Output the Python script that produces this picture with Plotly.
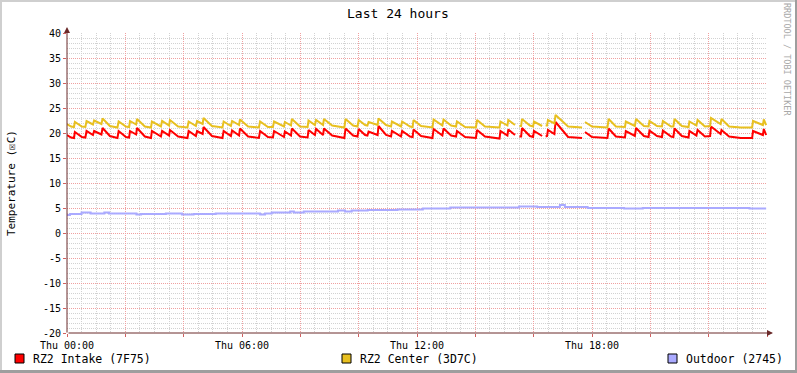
import plotly.graph_objects as go

# ---------------- data ----------------
title = "Last 24 hours"
y_title = "Temperature (\u2612C)"
x_tick_hours = [0, 2, 4, 6, 8, 10, 12, 14, 16, 18, 20, 22, 24]
x_tick_text = ["Thu 00:00", "", "", "Thu 06:00", "", "", "Thu 12:00", "", "", "Thu 18:00", "", "", ""]
y_tick_vals = [-20, -15, -10, -5, 0, 5, 10, 15, 20, 25, 30, 35, 40]
y_tick_text = ["-20", "-15", "-10", "-5", "0", "5", "10", "15", "20", "25", "30", "35", "40"]

series_names = ["RZ2 Intake (7F75)", "RZ2 Center (3D7C)", "Outdoor (2745)"]

# hours since Thu 00:00 (shared by the two RZ2 sensors)
t_rz = [0.00, 0.14, 0.24, 0.27, 0.51, 0.63, 0.67, 0.89, 0.93, 1.18, 1.22, 1.47, 1.73, 1.77,
        2.02, 2.13, 2.16, 2.37, 2.40, 2.67, 2.88, 2.91, 3.22, 3.26, 3.50, 3.53, 3.81, 4.13,
        4.17, 4.42, 4.46, 4.65, 4.68, 4.97, 5.33, 5.37, 5.62, 5.66, 5.90, 5.93, 6.21, 6.58,
        6.62, 6.89, 7.06, 7.10, 7.44, 7.47, 7.68, 7.71, 7.99, 8.25, 8.28, 8.50, 8.54, 8.78,
        8.81, 9.09, 9.51, 9.55, 9.81, 9.96, 10.00, 10.22, 10.30, 10.34, 10.65, 10.68, 10.94,
        11.11, 11.14, 11.45, 11.49, 11.76, 11.85, 11.88, 12.14, 12.53, 12.57, 12.87, 12.91,
        13.17, 13.34, 13.37, 13.65, 14.02, 14.06, 14.33, 14.83, 14.86, 15.10, 15.13, 15.36,
        15.43, 15.51, 15.57, 15.60, 15.87, 15.98, 16.01, 16.29, 16.35, 16.41, 16.46, 16.49,
        16.71, 16.75, 17.18, 17.66, 17.71, 17.76, 18.00, 18.53, 18.57, 18.82, 19.13, 19.16,
        19.47, 19.51, 19.78, 19.94, 19.97, 20.23, 20.40, 20.43, 20.71, 20.79, 20.83, 21.08,
        21.31, 21.34, 21.58, 21.62, 21.87, 22.05, 22.08, 22.41, 22.44, 22.70, 23.10, 23.49,
        23.52, 23.86, 23.89, 23.97]

rz2_intake = [19.6, 19.1, 19.0, 20.2, 19.2, 19.1, 20.4, 19.6, 20.4, 19.7, 21.0, 19.4, 19.0, 20.4,
              19.2, 19.1, 20.4, 19.7, 21.0, 19.3, 19.0, 20.4, 19.3, 20.4, 19.5, 20.6, 19.3, 19.0,
              20.4, 19.4, 20.4, 19.8, 21.2, 19.4, 19.0, 20.4, 19.4, 20.5, 19.5, 20.9, 19.3, 19.0,
              20.4, 19.2, 19.1, 20.4, 19.2, 20.3, 19.5, 20.9, 19.3, 19.1, 20.6, 19.6, 20.8, 19.6,
              20.9, 19.5, 19.0, 20.9, 19.5, 19.3, 20.8, 19.6, 19.5, 20.3, 19.6, 21.4, 19.6,
              19.3, 20.4, 19.3, 20.4, 19.3, 19.2, 20.7, 19.4, 19.0, 20.8, 19.5, 20.9,
              19.5, 19.3, 20.4, 19.2, 19.0, 20.6, 19.3, 18.9, 20.4, 19.5, 20.7, 19.6,
              None, 19.3, 19.3, 21.0, 19.4, 19.2, 20.4, 19.4, None, 19.3, 19.4, 20.6,
              19.8, 22.2, 19.2, 19.0, None, 20.2, 19.2, 19.0, 20.9, 19.3, 19.1, 20.4,
              19.4, 21.0, 19.4, 19.2, 20.5, 19.4, 19.2, 20.5, 19.3, 19.2, 20.9, 19.4,
              19.1, 20.4, 19.5, 20.6, 19.3, 19.4, 21.3, 19.8, 20.6, 19.3, 19.0, 19.0,
              20.4, 19.6, 20.8, 19.6]

rz2_center = [21.8, 21.3, 21.2, 22.2, 21.3, 21.2, 22.4, 21.7, 22.5, 21.8, 22.9, 21.4, 21.1, 22.3,
              21.3, 21.2, 22.4, 21.7, 22.8, 21.3, 21.1, 22.3, 21.3, 22.4, 21.5, 22.6, 21.3, 21.1,
              22.3, 21.4, 22.4, 21.8, 23.0, 21.4, 21.1, 22.3, 21.4, 22.4, 21.6, 22.7, 21.3, 21.1,
              22.3, 21.2, 21.2, 22.3, 21.3, 22.2, 21.5, 22.8, 21.3, 21.2, 22.5, 21.6, 22.6, 21.6,
              22.8, 21.5, 21.1, 22.8, 21.5, 21.3, 22.6, 21.6, 21.5, 22.2, 21.6, 22.9, 21.6,
              21.3, 22.3, 21.3, 22.3, 21.3, 21.2, 22.6, 21.4, 21.1, 22.7, 21.5, 22.7,
              21.5, 21.3, 22.3, 21.2, 21.1, 22.6, 21.3, 21.1, 22.3, 21.5, 22.6, 21.6,
              None, 21.4, 21.4, 22.8, 21.5, 21.3, 22.3, 21.4, None, 21.5, 21.5, 22.6,
              21.9, 23.6, 21.3, 21.1, None, 22.2, 21.3, 21.1, 22.8, 21.3, 21.2, 22.3,
              21.4, 22.8, 21.4, 21.3, 22.4, 21.4, 21.3, 22.4, 21.3, 21.3, 22.8, 21.4,
              21.2, 22.3, 21.5, 22.6, 21.3, 21.4, 23.0, 21.8, 22.8, 21.3, 21.1, 21.1,
              22.4, 21.6, 22.7, 21.6]

t_outdoor = [0.00, 0.10, 0.50, 0.81, 1.28, 1.44, 2.38, 2.54, 3.39, 3.94, 4.34, 5.10, 6.62, 6.79,
             7.02, 7.65, 7.78, 8.12, 9.29, 9.53, 9.76, 10.31, 11.33, 12.20, 13.14, 15.50, 16.12,
             16.90, 17.07, 17.85, 19.10, 19.74, 23.40, 23.97]
outdoor = [3.6, 3.8, 4.1, 3.9, 4.1, 3.9, 3.7, 3.8, 3.9, 3.7, 3.8, 3.9, 3.7, 3.9,
           4.1, 4.3, 4.1, 4.3, 4.5, 4.3, 4.5, 4.6, 4.7, 4.9, 5.1, 5.3, 5.2,
           5.6, 5.2, 5.0, 4.9, 5.0, 4.9, 4.9]

colors = ["#FF0000", "#E8C020", "#AAAAFF"]

# ---------------- geometry (pixels) ----------------
W, H = 797, 373
L, R, T, B = 67, 30, 33, 40
PW, PH = W - L - R, H - T - B
FONT = "DejaVu Sans Mono"


def px(x):
    return (x - L) / PW


def py(y):
    return (H - B - y) / PH


fig = go.Figure()
fig.add_trace(go.Scatter(x=t_rz, y=rz2_intake, mode="lines", name=series_names[0],
                         line=dict(color=colors[0], width=2), connectgaps=False))
fig.add_trace(go.Scatter(x=t_rz, y=rz2_center, mode="lines", name=series_names[1],
                         line=dict(color=colors[1], width=2), connectgaps=False))
fig.add_trace(go.Scatter(x=t_outdoor, y=outdoor, mode="lines", name=series_names[2],
                         line=dict(color=colors[2], width=2, shape="hv")))

major_grid = "#F0A0A0"
minor_grid = "#D2D2D2"

fig.update_xaxes(range=[0, 24], tickmode="array", tickvals=x_tick_hours, ticktext=x_tick_text,
                 showgrid=True, gridcolor=major_grid, griddash="1px,1px", gridwidth=1,
                 ticks="outside", ticklen=3, tickcolor="#D06060",
                 tickfont=dict(family=FONT, size=10, color="black"),
                 minor=dict(tickmode="linear", tick0=0, dtick=0.5, showgrid=True,
                            gridcolor=minor_grid, griddash="1px,1px"),
                 zeroline=False, showline=False, fixedrange=True)
fig.update_yaxes(range=[-20, 40], tickmode="array", tickvals=y_tick_vals, ticktext=y_tick_text,
                 showgrid=True, gridcolor=major_grid, griddash="1px,1px", gridwidth=1,
                 ticks="outside", ticklen=3, tickcolor="#D06060",
                 tickfont=dict(family=FONT, size=10, color="black"),
                 minor=dict(tickmode="linear", tick0=-20, dtick=1, showgrid=True,
                            gridcolor=minor_grid, griddash="1px,1px"),
                 zeroline=False, showline=False, fixedrange=True)

shapes = []
# frame shading
shapes.append(dict(type="rect", xref="paper", yref="paper", x0=px(0), x1=px(W), y0=py(0), y1=py(2),
                   fillcolor="#CFCFCF", line_width=0, layer="above"))
shapes.append(dict(type="rect", xref="paper", yref="paper", x0=px(0), x1=px(2), y0=py(0), y1=py(H),
                   fillcolor="#CFCFCF", line_width=0, layer="above"))
shapes.append(dict(type="rect", xref="paper", yref="paper", x0=px(W - 2), x1=px(W), y0=py(0), y1=py(H),
                   fillcolor="#9E9E9E", line_width=0, layer="above"))
shapes.append(dict(type="rect", xref="paper", yref="paper", x0=px(0), x1=px(W), y0=py(H - 3), y1=py(H),
                   fillcolor="#9E9E9E", line_width=0, layer="above"))

annotations = []
# axes with arrows
annotations.append(dict(x=px(773), y=0, xref="paper", yref="paper", ax=-706, ay=0,
                        axref="pixel", ayref="pixel", text="", showarrow=True, arrowhead=2,
                        arrowsize=1.2, arrowwidth=1, arrowcolor="#6B2A2A", standoff=0))
annotations.append(dict(x=0, y=py(27), xref="paper", yref="paper", ax=0, ay=307,
                        axref="pixel", ayref="pixel", text="", showarrow=True, arrowhead=2,
                        arrowsize=1.2, arrowwidth=1, arrowcolor="#6B2A2A", standoff=0))
# title
annotations.append(dict(x=px(398), y=py(13.5), xref="paper", yref="paper", text=title,
                        showarrow=False, xanchor="center", yanchor="middle",
                        font=dict(family=FONT, size=13, color="black")))
# y axis title
annotations.append(dict(x=px(11), y=py(183), xref="paper", yref="paper", text=y_title,
                        showarrow=False, textangle=-90, xanchor="center", yanchor="middle",
                        font=dict(family=FONT, size=11, color="black")))
# watermark
annotations.append(dict(x=px(787), y=py(60), xref="paper", yref="paper",
                        text="RRDTOOL / TOBI OETIKER", showarrow=False, textangle=90,
                        xanchor="center", yanchor="middle",
                        font=dict(family=FONT, size=8.5, color="#A8A8A8")))
# legend
legend_x = [15, 342, 668]
for name, col, lx in zip(series_names, colors, legend_x):
    shapes.append(dict(type="rect", xref="paper", yref="paper", x0=px(lx), x1=px(lx + 9),
                       y0=py(354), y1=py(363), fillcolor=col,
                       line=dict(color="black", width=1)))
    annotations.append(dict(x=px(lx + 15.5), y=py(358.5), xref="paper", yref="paper", text=name,
                            showarrow=False, xanchor="left", yanchor="middle",
                            font=dict(family=FONT, size=11.5, color="black")))

fig.update_layout(width=W, height=H, margin=dict(l=L, r=R, t=T, b=B, pad=0),
                  paper_bgcolor="white", plot_bgcolor="white", showlegend=False,
                  shapes=shapes, annotations=annotations)

fig.write_html("out.html", config={"displayModeBar": False},
               post_script="document.body.style.margin='0';document.body.style.padding='0';")
